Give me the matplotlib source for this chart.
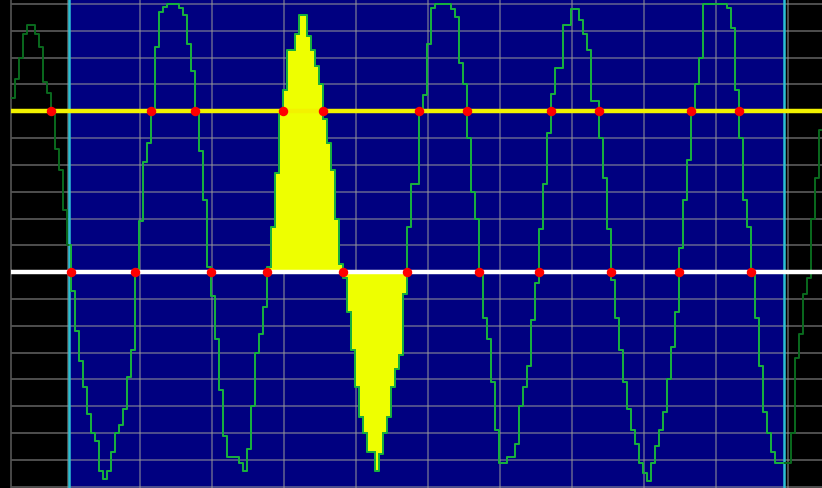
import numpy as np
import matplotlib
matplotlib.use('Agg')
import matplotlib.pyplot as plt

# scope-style trace, values in vertical divisions
SAMPLE_START = -57 / 72      # divisions, first sample
SAMPLE_STEP = 1 / 18         # divisions per sample
signal = [
    6.5, 7.2, 8.0, 8.9, 9.2, 9.2, 8.9, 8.4, 7.1, 6.7,
    5.9, 4.6, 3.8, 2.3, 1.0, -0.7, -2.2, -3.3, -4.3, -5.3,
    -6.0, -6.3, -7.4, -7.7, -7.4, -6.7, -6.0, -5.7, -5.1, -3.9,
    -2.9, 0.1, 1.9, 4.1, 4.8, 6.1, 8.4, 9.7, 9.9, 10.0,
    10.0, 10.0, 9.85, 9.6, 8.5, 7.5, 5.9, 4.5, 2.7, 0.2,
    -0.9, -2.5, -4.4, -6.1, -6.9, -6.9, -6.9, -7.1, -7.4, -6.6,
    -5.0, -3.0, -2.3, -1.3, 0.2, 1.7, 3.7, 5.9, 6.8, 8.3,
    8.3, 8.9, 9.6, 9.6, 8.8, 8.3, 7.7, 7.0, 5.7, 4.8,
    3.8, 2.0, 0.3, -0.2, -1.5, -2.9, -4.3, -5.4, -6.0, -6.7,
    -6.7, -7.4, -6.8, -6.0, -5.4, -4.3, -3.6, -3.1, -0.8, 1.7,
    3.3, 3.3, 6.1, 6.6, 8.5, 9.85, 10.0, 10.0, 10.0, 10.0,
    9.8, 9.5, 7.8, 7.0, 5.0, 3.0, 2.0, -0.1, -1.7, -2.5,
    -4.1, -5.9, -7.1, -7.1, -6.9, -6.9, -6.4, -5.0, -4.3, -3.5,
    -1.8, -0.4, 1.6, 3.3, 5.2, 6.65, 7.6, 7.6, 9.2, 9.2,
    9.8, 9.8, 9.4, 8.9, 8.3, 6.4, 6.4, 5.0, 3.5, 1.6,
    -0.3, -1.7, -2.9, -4.1, -5.1, -5.9, -6.4, -7.1, -7.5, -7.8,
    -7.1, -6.5, -5.9, -5.2, -4.0, -2.8, -1.5, 0.9, 2.7, 4.2,
    6.1, 7.0, 8.0, 10.0, 10.0, 10.0, 10.0, 10.0, 10.0, 9.85,
    9.1, 6.8, 5.0, 2.7, 1.7, -0.1, -1.7, -3.5, -5.2, -6.0,
    -6.7, -7.1, -7.1, -7.1, -7.1, -6.0, -3.2, -2.3, -0.8, -0.2,
    2.0, 3.5, 5.3, 6.7,
]
zero_level = 0.0
upper_level = 6.0
window = (0.02, 9.95)        # selected region (divisions)

BG = '#000000'
NAVY = '#000080'
GRID = '#9a9a9a'
CYAN = '#2cc0d4'
TRACE = '#18b040'
TRACE_DIM = '#0a6a1e'
FILL = '#eeff00'
YELLOW = '#f2f200'
RED = '#ff0000'

y = np.array(signal)
t = SAMPLE_START + SAMPLE_STEP * np.arange(len(y))

fig = plt.figure(figsize=(8.22, 4.88), dpi=100, facecolor=BG)
ax = fig.add_axes([11 / 822, 0, 811 / 822, 1])
ax.set_facecolor(BG)
ax.set_xlim(-57 / 72, 754 / 72)
ax.set_ylim(-8.05, 10.15)

span = ax.axvspan(window[0], window[1], color=NAVY, zorder=0.5, lw=0)

for gx in range(0, 11):
    ax.axvline(gx, color=GRID, lw=1.3, alpha=0.55, zorder=1)
for gy in range(-8, 11):
    ax.axhline(gy, color=GRID, lw=1.3, alpha=0.55, zorder=1)
for xv in window:
    ax.axvline(xv, color=CYAN, lw=1.8, zorder=1.5)

# one full cycle highlighted between two rising zero crossings
rising = np.where((y[:-1] < zero_level) & (y[1:] > zero_level))[0] + 1
mask = (np.arange(len(y)) >= rising[1]) & (np.arange(len(y)) <= rising[2])
ax.fill_between(t, y, zero_level, where=mask, step='post', color=FILL, lw=0, zorder=2)

ax.step(t, y, where='post', color=TRACE_DIM, lw=1.4, zorder=3)
bright, = ax.step(t, y, where='post', color=TRACE, lw=1.4, zorder=3.1)
bright.set_clip_path(span)

ax.axhline(upper_level, color=YELLOW, lw=3.2, zorder=4)
ax.axhline(zero_level, color='white', lw=3.2, zorder=4)

for level in (upper_level, zero_level):
    s = np.sign(y - level)
    idx = np.where(s[:-1] != s[1:])[0] + 1
    xs = t[idx]
    xs = xs[xs <= window[1]]
    ax.plot(xs, np.full(len(xs), level), 'o', color=RED, ms=6.8, mec='none', zorder=5)

ax.set_xticks([])
ax.set_yticks([])
for side in ['top', 'right', 'bottom']:
    ax.spines[side].set_visible(False)
ax.spines['left'].set_color('#555555')
ax.spines['left'].set_linewidth(1.2)

fig.savefig('out.png', dpi=100, facecolor=BG)
